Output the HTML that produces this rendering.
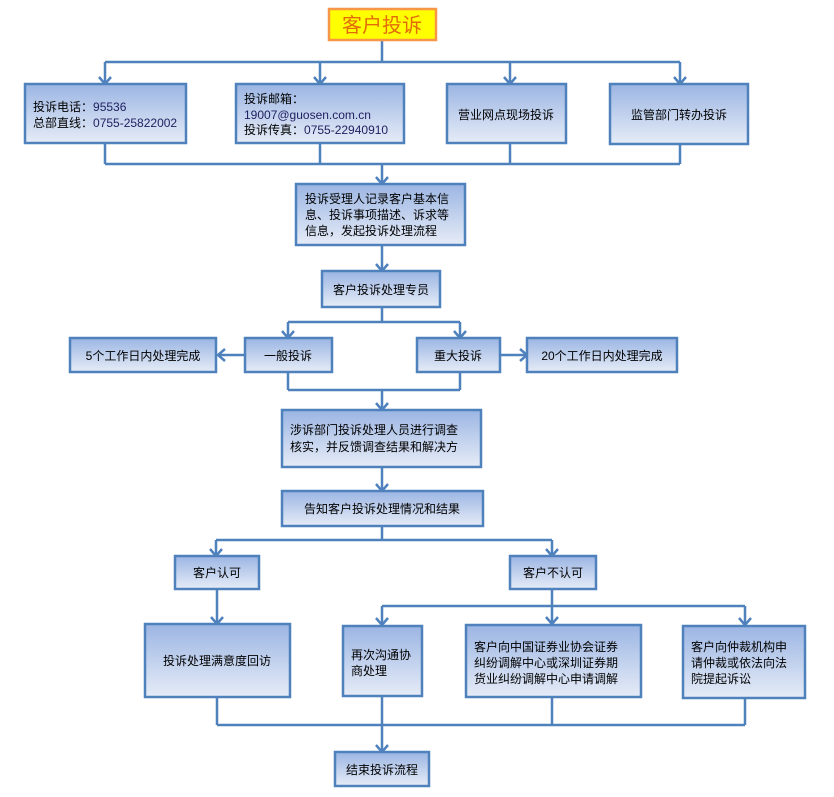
<!DOCTYPE html>
<html><head><meta charset="utf-8"><style>
html,body{margin:0;padding:0;background:#fff;}
svg{display:block;}
text{font-family:"Liberation Sans","Noto Sans CJK SC",sans-serif;font-size:12px;fill:#000;}
</style></head><body>
<svg width="834" height="797" viewBox="0 0 834 797" xmlns="http://www.w3.org/2000/svg">
<defs>
<linearGradient id="g" x1="0" y1="0" x2="0" y2="1">
<stop offset="0" stop-color="#9bb5e3"/><stop offset="1" stop-color="#e6ecf7"/>
</linearGradient>
<marker id="a" markerWidth="12" markerHeight="12" refX="6" refY="10" orient="auto" markerUnits="userSpaceOnUse" viewBox="0 0 12 12">
</marker>
</defs>
<g fill="none" stroke="#4f81bd" stroke-width="2.5">
<!-- top -->
<path d="M382 40V62M105 62H680M105 62V84M320 62V84M510 62V84M680 62V84"/>
<path d="M105 143V164M320 143V164M510 143V164M680 143V164M105 164H680M382 164V184"/>
<path d="M382 245V271"/>
<path d="M382 307V322M288 322H460M288 322V338M460 322V338"/>
<path d="M245 355H218M500 355H527"/>
<path d="M288 372V390M460 372V390M288 390H460M382 390V410"/>
<path d="M382 467V491"/>
<path d="M382 526V540M216 540H552M216 540V556M552 540V556"/>
<path d="M217 589V624"/>
<path d="M552 589V606M382 606H745M382 606V625M552 606V624M745 606V625"/>
<path d="M217 697V725M382 696V725M552 697V725M745 698V725M217 725H745M382 725V752"/>
</g>
<g fill="none" stroke="#4f81bd" stroke-width="2.5" stroke-linejoin="miter">
<path d="M99 77L105 84L111 77M314 77L320 84L326 77M504 77L510 84L516 77M674 77L680 84L686 77"/>
<path d="M376 177L382 184L388 177M376 264L382 271L388 264"/>
<path d="M282 331L288 338L294 331M454 331L460 338L466 331"/>
<path d="M225 349L218 355L225 361M520 349L527 355L520 361"/>
<path d="M376 403L382 410L388 403M376 484L382 491L388 484"/>
<path d="M210 549L216 556L222 549M546 549L552 556L558 549"/>
<path d="M211 617L217 624L223 617"/>
<path d="M376 618L382 625L388 618M546 617L552 624L558 617M739 618L745 625L751 618"/>
<path d="M376 745L382 752L388 745"/>
</g>
<g fill="url(#g)" stroke="#4f81bd" stroke-width="2.5">
<rect x="25" y="84" width="161" height="59"/>
<rect x="236" y="84" width="168" height="59"/>
<rect x="447" y="84" width="119" height="59"/>
<rect x="610" y="84" width="138" height="60"/>
<rect x="296" y="184" width="169" height="61"/>
<rect x="322" y="271" width="118" height="36"/>
<rect x="70" y="338" width="146" height="34"/>
<rect x="245" y="338" width="87" height="34"/>
<rect x="417" y="338" width="83" height="34"/>
<rect x="527" y="338" width="150" height="34"/>
<rect x="282" y="410" width="199" height="57"/>
<rect x="282" y="491" width="201" height="35"/>
<rect x="175" y="556" width="84" height="33"/>
<rect x="510" y="556" width="86" height="33"/>
<rect x="145" y="624" width="145" height="73"/>
<rect x="343" y="626" width="79" height="70"/>
<rect x="466" y="625" width="175" height="72"/>
<rect x="683" y="626" width="122" height="72"/>
<rect x="335" y="752" width="94" height="34"/>
</g>
<rect x="329" y="9" width="107" height="31" fill="#ffff00" stroke="#f79646" stroke-width="2.5"/>
<text x="382" y="32" text-anchor="middle" style="font-size:20px;fill:#e36c09">客户投诉</text>
<text x="33" y="111">投诉电话：<tspan style="fill:#1f1f5f">95536</tspan></text>
<text x="33" y="127">总部直线：<tspan style="fill:#1f1f5f">0755-25822002</tspan></text>
<text x="244" y="103">投诉邮箱：</text>
<text x="244" y="119" style="fill:#1f1f5f">19007@guosen.com.cn</text>
<text x="244" y="134">投诉传真：<tspan style="fill:#1f1f5f">0755-22940910</tspan></text>
<text x="506" y="119" text-anchor="middle">营业网点现场投诉</text>
<text x="679" y="119" text-anchor="middle">监管部门转办投诉</text>
<text x="305" y="203">投诉受理人记录客户基本信</text>
<text x="305" y="219">息、投诉事项描述、诉求等</text>
<text x="305" y="235">信息，发起投诉处理流程</text>
<text x="381" y="294" text-anchor="middle">客户投诉处理专员</text>
<text x="143" y="360" text-anchor="middle">5个工作日内处理完成</text>
<text x="288" y="360" text-anchor="middle">一般投诉</text>
<text x="458" y="360" text-anchor="middle">重大投诉</text>
<text x="602" y="360" text-anchor="middle">20个工作日内处理完成</text>
<text x="290" y="434">涉诉部门投诉处理人员进行调查</text>
<text x="290" y="451">核实，并反馈调查结果和解决方</text>
<text x="382" y="513" text-anchor="middle">告知客户投诉处理情况和结果</text>
<text x="217" y="577" text-anchor="middle">客户认可</text>
<text x="553" y="577" text-anchor="middle">客户不认可</text>
<text x="217" y="665" text-anchor="middle">投诉处理满意度回访</text>
<text x="351" y="659">再次沟通协</text>
<text x="351" y="675">商处理</text>
<text x="474" y="651">客户向中国证券业协会证券</text>
<text x="474" y="667">纠纷调解中心或深圳证券期</text>
<text x="474" y="683">货业纠纷调解中心申请调解</text>
<text x="691" y="651">客户向仲裁机构申</text>
<text x="691" y="667">请仲裁或依法向法</text>
<text x="691" y="683">院提起诉讼</text>
<text x="382" y="774" text-anchor="middle">结束投诉流程</text>
</svg>
</body></html>
